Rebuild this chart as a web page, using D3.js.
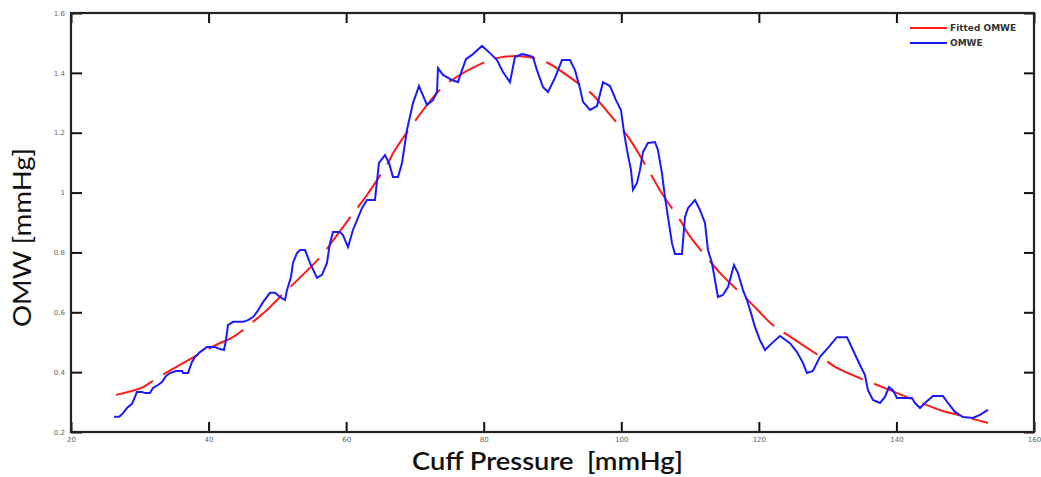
<!DOCTYPE html>
<html lang="en">
  <head>
    <meta charset="UTF-8" />
    <title>OMWE</title>
    <style>
      body { margin: 0; background: #fff; }
    </style>
  </head>
  <body>
    <script src="https://d3js.org/d3.v7.min.js"></script>
    <script>
      // measured oscillometric envelope (cuff pressure, amplitude)
      const omweX = [26.25, 27.02, 27.56, 28.14, 28.87, 29.3, 29.59, 30.32, 30.76, 31.48, 31.92, 32.65, 33.23, 33.81, 34.39, 35.26, 36.14, 36.28, 37.01, 37.59,
        38.03, 38.75, 39.77, 40.93, 41.66, 42.24, 42.53, 42.82, 43.55, 45.0, 45.73, 46.46, 47.04, 47.91, 48.93, 49.66, 50.38, 51.11, 51.4, 51.98,
        52.27, 52.85, 53.29, 54.02, 54.74, 55.76, 56.49, 57.21, 57.65, 58.09, 59.1, 59.54, 60.27, 60.99, 62.3, 63.03, 64.19, 64.77, 65.65, 66.23,
        66.81, 67.54, 68.12, 68.84, 69.72, 70.59, 71.75, 72.62, 73.21, 73.35, 74.08, 75.39, 76.26, 76.69, 77.42, 78.29, 79.75, 80.91, 81.93, 82.8,
        83.82, 84.54, 85.56, 86.29, 87.16, 87.74, 88.61, 89.34, 90.36, 91.38, 92.54, 93.27, 93.99, 94.43, 95.45, 96.47, 97.34, 98.36, 99.23, 99.95,
        100.39, 100.83, 101.41, 101.7, 102.28, 102.71, 103.15, 103.88, 104.9, 105.33, 105.91, 106.35, 106.79, 107.37, 107.8, 108.82, 109.26, 109.69, 110.71, 111.44,
        112.17, 112.6, 113.18, 113.62, 114.05, 114.78, 115.51, 116.38, 116.96, 117.69, 118.27, 118.85, 119.43, 120.16, 120.89, 121.91, 123.07, 124.52, 125.54, 126.41,
        126.99, 127.86, 128.88, 130.05, 131.35, 132.81, 133.68, 134.7, 135.42, 135.86, 136.59, 137.61, 138.33, 138.91, 139.49, 140.08, 142.26, 142.69, 143.42, 144.15,
        145.31, 146.76, 147.49, 148.51, 149.67, 151.12, 152.14, 153.31];
      const omweY = [0.251, 0.251, 0.263, 0.28, 0.294, 0.317, 0.334, 0.334, 0.33, 0.33, 0.347, 0.357, 0.367, 0.387, 0.397, 0.404, 0.404, 0.397, 0.397, 0.434,
        0.451, 0.467, 0.484, 0.484, 0.477, 0.474, 0.507, 0.557, 0.568, 0.568, 0.574, 0.584, 0.601, 0.634, 0.665, 0.665, 0.651, 0.641, 0.674, 0.718,
        0.765, 0.798, 0.808, 0.808, 0.765, 0.715, 0.725, 0.765, 0.831, 0.868, 0.868, 0.858, 0.818, 0.875, 0.948, 0.975, 0.975, 1.099, 1.125, 1.099,
        1.052, 1.052, 1.099, 1.209, 1.299, 1.356, 1.293, 1.309, 1.336, 1.416, 1.393, 1.376, 1.369, 1.399, 1.446, 1.46, 1.49, 1.466, 1.443, 1.403,
        1.369, 1.453, 1.463, 1.46, 1.453, 1.409, 1.353, 1.336, 1.383, 1.443, 1.443, 1.409, 1.349, 1.303, 1.276, 1.289, 1.369, 1.356, 1.309, 1.276,
        1.202, 1.142, 1.075, 1.009, 1.032, 1.075, 1.135, 1.166, 1.169, 1.142, 1.065, 0.985, 0.918, 0.831, 0.795, 0.795, 0.918, 0.948, 0.975, 0.942,
        0.898, 0.808, 0.765, 0.708, 0.651, 0.658, 0.684, 0.758, 0.731, 0.674, 0.641, 0.598, 0.551, 0.507, 0.474, 0.497, 0.521, 0.497, 0.467, 0.431,
        0.397, 0.404, 0.451, 0.481, 0.517, 0.517, 0.474, 0.424, 0.39, 0.34, 0.307, 0.297, 0.317, 0.35, 0.34, 0.314, 0.314, 0.297, 0.28, 0.297,
        0.32, 0.32, 0.297, 0.267, 0.25, 0.247, 0.257, 0.274];

      // fitted envelope
      const fitX = [26.54, 30.47, 32.5, 41.37, 43.55, 48.49, 50.24, 56.49, 57.94, 61.58, 63.03, 66.08, 67.1, 73.21, 75.39, 80.18, 82.07, 84.54, 87.16, 89.34,
        94.43, 95.88, 99.81, 101.12, 104.6, 105.77, 108.82, 109.55, 113.33, 114.78, 118.71, 122.05, 124.38, 129.46, 131.35, 139.06, 146.76, 148.51, 153.31];
      const fitY = [0.324, 0.35, 0.38, 0.494, 0.517, 0.608, 0.648, 0.791, 0.835, 0.948, 0.992, 1.099, 1.142, 1.333, 1.376, 1.436, 1.45, 1.456, 1.45, 1.433,
        1.353, 1.326, 1.219, 1.182, 1.049, 1.002, 0.898, 0.868, 0.758, 0.721, 0.634, 0.557, 0.521, 0.444, 0.414, 0.34, 0.27, 0.26, 0.23];

      const xTicks = [20, 40, 60, 80, 100, 120, 140, 160];
      const yTicks = [0.2, 0.4, 0.6, 0.8, 1, 1.2, 1.4, 1.6];
      const seriesNames = ["Fitted OMWE", "OMWE"];
      const seriesColors = ["#ff1a1a", "#1a1aff"];

      const width = 1041;
      const height = 477;
      const plot = { left: 71, right: 1034, top: 13, bottom: 432 };

      const svg = d3
        .select("body")
        .append("svg")
        .attr("width", width)
        .attr("height", height);

      const xScale = d3.scaleLinear().domain([20, 160]).range([plot.left, plot.right]);
      const yScale = d3.scaleLinear().domain([0.2, 1.6]).range([plot.bottom, plot.top]);

      const tickFont = (g) =>
        g.selectAll("text")
          .attr("font-family", "DejaVu Sans, sans-serif")
          .attr("font-size", 7)
          .attr("fill", "#666");

      // bottom axis
      svg.append("g")
        .attr("transform", `translate(0, ${plot.bottom})`)
        .call(d3.axisBottom(xScale).tickValues(xTicks).tickSize(-10).tickPadding(5).tickSizeOuter(0))
        .call((g) => g.select(".domain").remove())
        .call((g) => g.selectAll("line").attr("stroke", "#111").attr("stroke-width", 2))
        .call(tickFont);

      // left axis
      svg.append("g")
        .attr("transform", `translate(${plot.left}, 0)`)
        .call(d3.axisLeft(yScale).tickValues(yTicks).tickSize(-11).tickPadding(6).tickSizeOuter(0)
          .tickFormat(d3.format("~g")))
        .call((g) => g.select(".domain").remove())
        .call((g) => g.selectAll("line").attr("stroke", "#111").attr("stroke-width", 2))
        .call(tickFont);

      // top + right ticks, no labels
      svg.append("g")
        .attr("transform", `translate(0, ${plot.top})`)
        .call(d3.axisTop(xScale).tickValues(xTicks).tickSize(-10).tickFormat("").tickSizeOuter(0))
        .call((g) => g.select(".domain").remove())
        .call((g) => g.selectAll("line").attr("stroke", "#111").attr("stroke-width", 2));

      svg.append("g")
        .attr("transform", `translate(${plot.right}, 0)`)
        .call(d3.axisRight(yScale).tickValues(yTicks).tickSize(-10).tickFormat("").tickSizeOuter(0))
        .call((g) => g.select(".domain").remove())
        .call((g) => g.selectAll("line").attr("stroke", "#111").attr("stroke-width", 2));

      // frame
      svg.append("rect")
        .attr("x", plot.left)
        .attr("y", plot.top)
        .attr("width", plot.right - plot.left)
        .attr("height", plot.bottom - plot.top)
        .attr("fill", "none")
        .attr("stroke", "#222")
        .attr("stroke-width", 2.2);

      const omwe = omweX.map((x, i) => [x, omweY[i]]);
      const fit = fitX.map((x, i) => [x, fitY[i]]);

      const line = d3.line().x((d) => xScale(d[0])).y((d) => yScale(d[1]));

      svg.append("path")
        .datum(fit)
        .attr("d", line.curve(d3.curveCatmullRom))
        .attr("fill", "none")
        .attr("stroke", seriesColors[0])
        .attr("stroke-width", 2)
        .attr("stroke-dasharray", "40,12");

      svg.append("path")
        .datum(omwe)
        .attr("d", line.curve(d3.curveLinear))
        .attr("fill", "none")
        .attr("stroke", seriesColors[1])
        .attr("stroke-width", 2);

      // legend
      const legend = svg.append("g").attr("transform", "translate(910, 28)");
      seriesNames.forEach((name, i) => {
        legend.append("line")
          .attr("x1", 0).attr("x2", 37)
          .attr("y1", i * 15).attr("y2", i * 15)
          .attr("stroke", seriesColors[i])
          .attr("stroke-width", 2);
        legend.append("text")
          .attr("x", 40)
          .attr("y", i * 15)
          .attr("dy", "0.35em")
          .attr("font-family", "DejaVu Sans, sans-serif")
          .attr("font-size", 9)
          .attr("font-weight", "bold")
          .attr("fill", "#333")
          .text(name);
      });

      // axis titles
      svg.append("text")
        .attr("x", 412)
        .attr("y", 470)
        .attr("font-family", "Lato, sans-serif")
        .attr("font-size", 25)
        .attr("font-weight", 600)
        .attr("fill", "#111")
        .attr("textLength", 271)
        .attr("lengthAdjust", "spacingAndGlyphs")
        .style("white-space", "pre")
        .text("Cuff Pressure  [mmHg]");

      svg.append("text")
        .attr("transform", "translate(31, 327) rotate(-90)")
        .attr("font-family", "Lato, sans-serif")
        .attr("font-size", 25)
        .attr("fill", "#111")
        .attr("textLength", 179)
        .attr("lengthAdjust", "spacingAndGlyphs")
        .text("OMW [mmHg]");
    </script>
  </body>
</html>
